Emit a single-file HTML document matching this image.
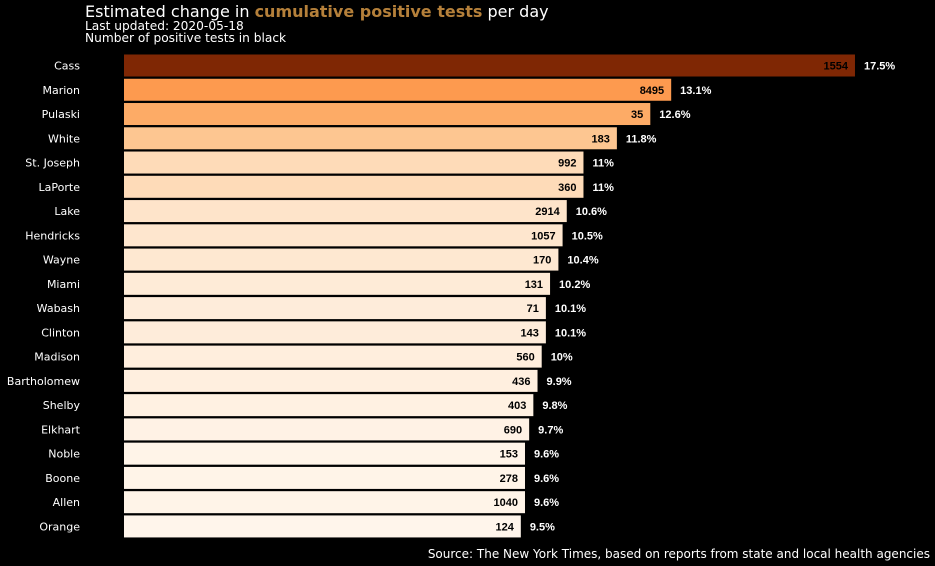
<!DOCTYPE html>
<html><head><meta charset="utf-8"><style>
html,body{margin:0;padding:0;background:#000;width:935px;height:566px;overflow:hidden}
svg{display:block}
</style></head><body>
<svg id="chart" width="935" height="566" xmlns="http://www.w3.org/2000/svg">
<text x="85" y="17" fill="#fff" font-family="DejaVu Sans, sans-serif" font-size="16">Estimated change in <tspan fill="#b5803a" font-weight="bold">cumulative positive tests</tspan> per day</text>
<text x="85" y="30" fill="#fff" font-family="DejaVu Sans, sans-serif" font-size="12.2">Last updated: 2020-05-18</text>
<text x="85" y="42" fill="#fff" font-family="DejaVu Sans, sans-serif" font-size="12.2">Number of positive tests in black</text>
<text x="930" y="558" text-anchor="end" fill="#fff" font-family="DejaVu Sans, sans-serif" font-size="12">Source: The New York Times, based on reports from state and local health agencies</text>
<g id="bars"></g>
</svg>
<script>
const counties=["Cass","Marion","Pulaski","White","St. Joseph","LaPorte","Lake","Hendricks","Wayne","Miami","Wabash","Clinton","Madison","Bartholomew","Shelby","Elkhart","Noble","Boone","Allen","Orange"];
const pctChange=[17.5,13.1,12.6,11.8,11,11,10.6,10.5,10.4,10.2,10.1,10.1,10,9.9,9.8,9.7,9.6,9.6,9.6,9.5];
const positives=[1554,8495,35,183,992,360,2914,1057,170,131,71,143,560,436,403,690,153,278,1040,124];

const NS="http://www.w3.org/2000/svg";
const x0=124, pxPer=41.77;
const xScale=v=>x0+v*pxPer;
const yCenter=i=>65.5+i*24.26;
const stops=["#fff5eb","#fee6ce","#fdd0a2","#fdae6b","#fd8d3c","#f16913","#d94801","#a63603","#7f2704"];
function hex(c){return [1,3,5].map(k=>parseInt(c.substr(k,2),16));}
function oranges(t){t=Math.max(0,Math.min(1,t));const p=t*8,i=Math.min(7,Math.floor(p)),f=p-i;const a=hex(stops[i]),b=hex(stops[i+1]);return "rgb("+a.map((v,k)=>Math.round(v+(b[k]-v)*f)).join(",")+")";}
const mn=Math.min(...pctChange),mx=Math.max(...pctChange);
const g=document.getElementById('bars');
function mk(tag,attrs,txt){const e=document.createElementNS(NS,tag);for(const k in attrs)e.setAttribute(k,attrs[k]);if(txt!==undefined)e.textContent=txt;g.appendChild(e);return e;}
counties.forEach((c,i)=>{
  const yc=yCenter(i),xe=xScale(pctChange[i]);
  const r=mk('rect',{x:x0,y:yc-11,width:xe-x0,height:22,fill:oranges((pctChange[i]-mn)/(mx-mn))});
  
  
  const l=mk('text',{x:80,y:yc+4,'text-anchor':'end',fill:'#fff','font-family':'DejaVu Sans, sans-serif','font-size':'11'},c);
  
  
  const n=mk('text',{x:xe-7,y:yc+4,'text-anchor':'end',fill:'#000','font-family':'Liberation Sans, sans-serif','font-size':'11','font-weight':'bold'},positives[i]);
  
  
  const p=mk('text',{x:xe+9,y:yc+4,fill:'#fff','font-family':'Liberation Sans, sans-serif','font-size':'11','font-weight':'bold'},pctChange[i]+'%');
  
  
});
</script>
</body></html>
